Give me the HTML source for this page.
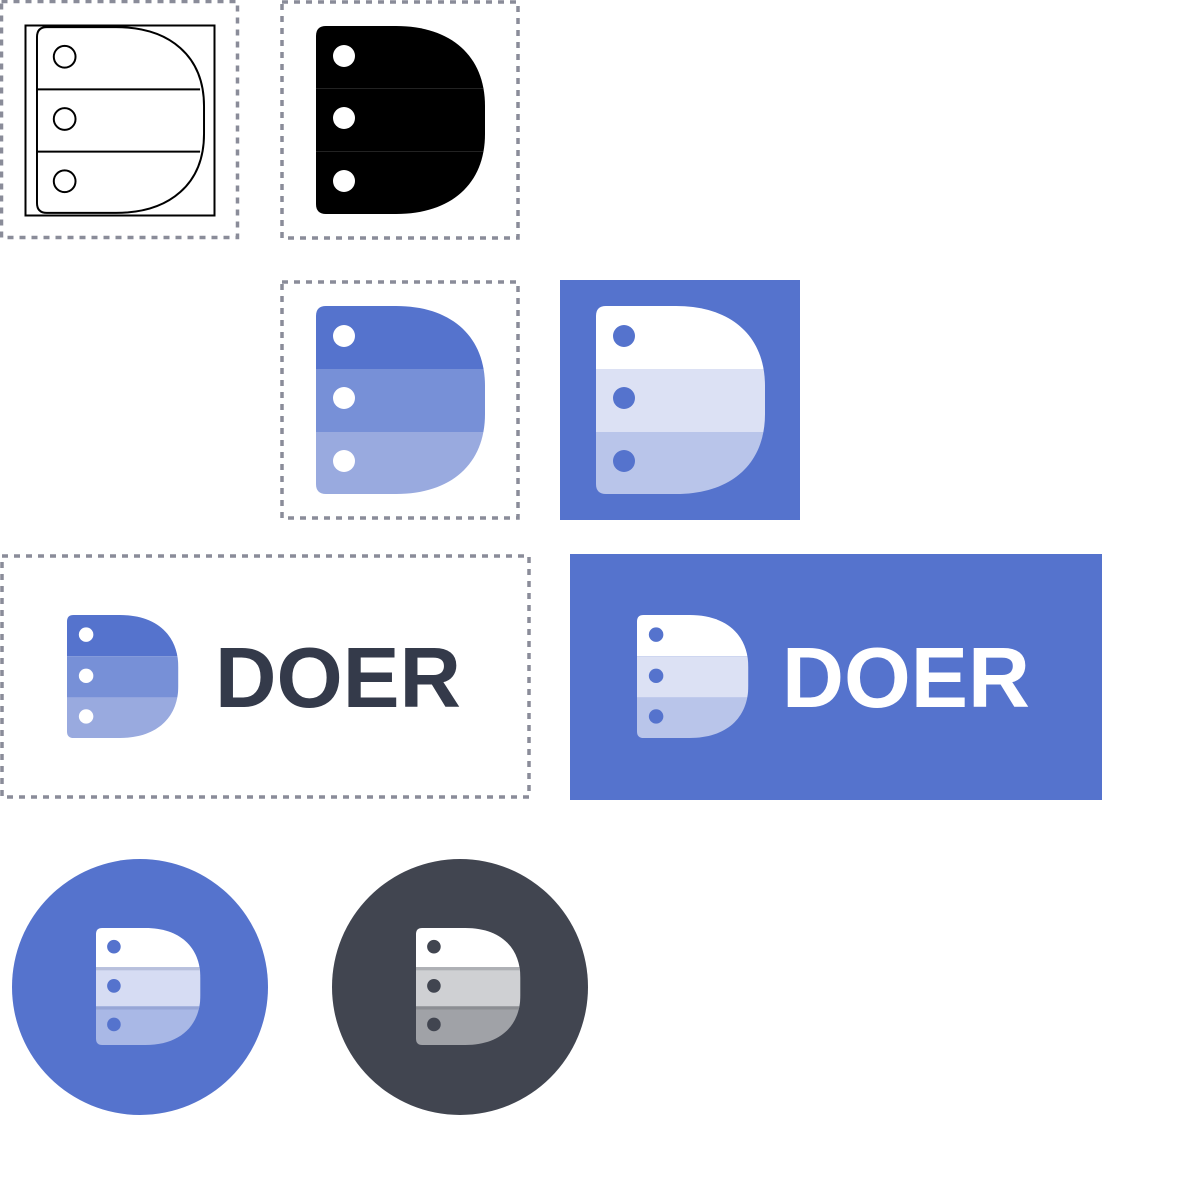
<!DOCTYPE html>
<html><head><meta charset="utf-8"><style>html,body{margin:0;padding:0;background:#fff}svg{display:block}</style></head>
<body>
<svg width="1200" height="1200" viewBox="0 0 1200 1200" xmlns="http://www.w3.org/2000/svg">
<defs>
<path id="dp" d="M10,0 H80 C135,0 169,30 169,80 V108 C169,158 135,188 80,188 H10 Q0,188 0,178 V10 Q0,0 10,0Z"/>
<clipPath id="dc"><use href="#dp"/></clipPath>
</defs>
<g fill="none" stroke="#8a8c99" stroke-width="3.5" stroke-dasharray="6,6">
<rect x="1.5" y="1.5" width="236" height="236"/>
<rect x="282" y="2" width="236" height="236"/>
<rect x="282" y="282" width="236" height="236"/>
<rect x="2" y="556" width="527" height="241"/>
</g>
<!-- 1 outline -->
<rect x="25.5" y="25.5" width="189" height="190" fill="none" stroke="#000" stroke-width="2"/>
<svg x="36" y="25" width="170" height="190" viewBox="-1 -1 172 190" overflow="visible">
<use href="#dp" fill="none" stroke="#000" stroke-width="2"/>
<line x1="0" y1="63" x2="165" y2="63" stroke="#000" stroke-width="2"/>
<line x1="0" y1="126" x2="165" y2="126" stroke="#000" stroke-width="2"/>
<g fill="none" stroke="#000" stroke-width="2"><circle cx="28" cy="30" r="11"/><circle cx="28" cy="93" r="11"/><circle cx="28" cy="156" r="11"/></g>
</svg>
<svg x="316" y="26" width="170" height="188" viewBox="0 0 170 188">
<g clip-path="url(#dc)"><rect width="170" height="188" fill="#000"/><line x1="0" y1="62.5" x2="170" y2="62.5" stroke="#222" stroke-width="1"/><line x1="0" y1="125.5" x2="170" y2="125.5" stroke="#222" stroke-width="1"/></g>
<g fill="#fff"><circle cx="28" cy="30" r="11"/><circle cx="28" cy="92" r="11"/><circle cx="28" cy="155" r="11"/></g>
</svg>
<svg x="316" y="306" width="170" height="188" viewBox="0 0 170 188">
<g clip-path="url(#dc)"><rect width="170" height="63" fill="#5573cd"/><rect y="63" width="170" height="63" fill="#7790d7"/><rect y="126" width="170" height="62" fill="#99aadf"/></g>
<g fill="#fff"><circle cx="28" cy="30" r="11"/><circle cx="28" cy="92" r="11"/><circle cx="28" cy="155" r="11"/></g>
</svg>
<rect x="560" y="280" width="240" height="240" fill="#5573cd"/>
<svg x="596" y="306" width="170" height="188" viewBox="0 0 170 188">
<g clip-path="url(#dc)"><rect width="170" height="63" fill="#fff"/><rect y="63" width="170" height="63" fill="#dce1f4"/><rect y="126" width="170" height="62" fill="#b9c5ea"/></g>
<g fill="#5573cd"><circle cx="28" cy="30" r="11"/><circle cx="28" cy="92" r="11"/><circle cx="28" cy="155" r="11"/></g>
</svg>
<svg x="67" y="615" width="112" height="123" viewBox="0 0 170 188" preserveAspectRatio="none">
<g clip-path="url(#dc)"><rect width="170" height="63" fill="#5573cd"/><rect y="63" width="170" height="63" fill="#7790d7"/><rect y="126" width="170" height="62" fill="#99aadf"/></g>
<g fill="#fff"><circle cx="29" cy="30" r="11"/><circle cx="29" cy="93" r="11"/><circle cx="29" cy="155" r="11"/></g>
</svg>
<text x="215" y="707" font-family="Liberation Sans, sans-serif" font-weight="bold" font-size="85" fill="#343a4a" textLength="246" lengthAdjust="spacingAndGlyphs">DOER</text>
<rect x="570" y="554" width="532" height="246" fill="#5573cd"/>
<svg x="637" y="615" width="112" height="123" viewBox="0 0 170 188" preserveAspectRatio="none">
<g clip-path="url(#dc)"><rect width="170" height="63" fill="#fff"/><rect y="63" width="170" height="63" fill="#dce1f4"/><rect y="126" width="170" height="62" fill="#b9c5ea"/></g>
<g fill="#5573cd"><circle cx="29" cy="30" r="11"/><circle cx="29" cy="93" r="11"/><circle cx="29" cy="155" r="11"/></g>
</svg>
<text x="782" y="707" font-family="Liberation Sans, sans-serif" font-weight="bold" font-size="85" fill="#fff" textLength="248" lengthAdjust="spacingAndGlyphs">DOER</text>
<circle cx="140" cy="987" r="128" fill="#5573cd"/>
<svg x="96" y="928" width="105" height="117" viewBox="0 0 170 188" preserveAspectRatio="none">
<g clip-path="url(#dc)"><rect width="170" height="63" fill="#fff"/><rect y="63" width="170" height="63" fill="#d6dcf3"/><rect y="126" width="170" height="62" fill="#a9b8e6"/><rect y="63" width="170" height="5" fill="#b8c0dc"/><rect y="126" width="170" height="5" fill="#97a6d6"/></g>
<g fill="#5573cd"><circle cx="29" cy="30" r="11"/><circle cx="29" cy="93" r="11"/><circle cx="29" cy="155" r="11"/></g>
</svg>
<circle cx="460" cy="987" r="128" fill="#414550"/>
<svg x="416" y="928" width="105" height="117" viewBox="0 0 170 188" preserveAspectRatio="none">
<g clip-path="url(#dc)"><rect width="170" height="63" fill="#fff"/><rect y="63" width="170" height="63" fill="#cfd0d3"/><rect y="126" width="170" height="62" fill="#a0a2a7"/><rect y="63" width="170" height="5" fill="#aeb0b4"/><rect y="126" width="170" height="5" fill="#8c8e93"/></g>
<g fill="#414550"><circle cx="29" cy="30" r="11"/><circle cx="29" cy="93" r="11"/><circle cx="29" cy="155" r="11"/></g>
</svg>
</svg>
</body></html>
